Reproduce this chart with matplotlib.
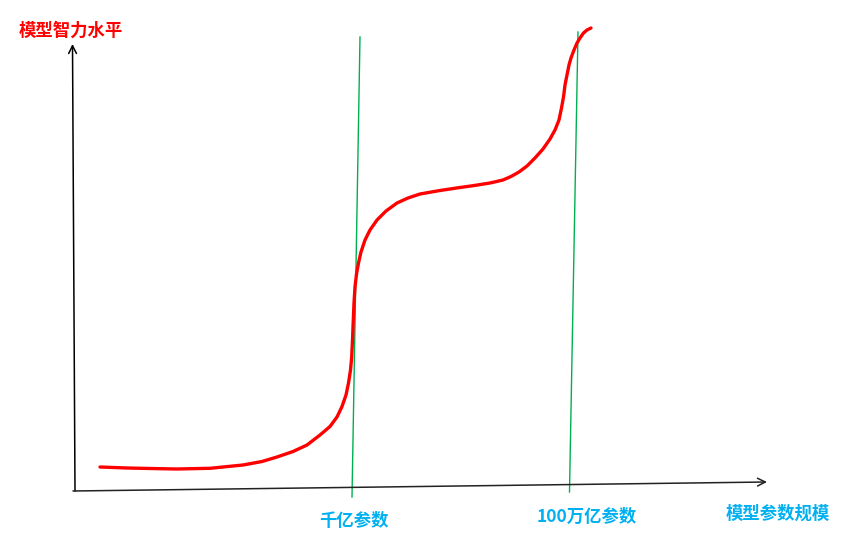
import matplotlib.pyplot as plt

plt.rcParams['font.family'] = ['Noto Sans CJK SC', 'DejaVu Sans']

# sketch coordinates: origin at the axes corner, x to the right, y upward
scale_x = [25, 52, 75, 102, 135, 168, 187, 202, 218, 232, 245, 255, 262, 267, 271,
           273.5, 275.5, 276.7, 277.5, 278.3, 279, 280, 281.5, 283.5, 286, 290, 295,
           302, 311, 322, 333, 345, 365, 385, 398, 415, 428, 436, 444, 452, 460, 468,
           475, 480, 484, 486.5, 488.5, 490, 492, 494, 496, 499, 502, 505, 508.5, 512, 516]
level = [24, 23, 22.5, 22, 22.7, 26, 29.5, 34, 39.5, 46, 56, 64.5, 74, 84.5, 96, 108,
         121, 134, 151, 171, 188, 204, 217, 228, 239, 251, 261, 271, 280, 288, 293, 297,
         300.5, 303.5, 305.3, 308, 311, 314.5, 319, 325, 333, 342, 352, 361, 371,
         383, 394, 406, 416, 426, 433, 441, 448, 453, 458, 461, 463]

milestone_labels = ['千亿参数', '100万亿参数']
milestone_bottom = [(277, -6), (494.5, -1)]
milestone_top = [(285, 454), (503, 459)]

y_title = '模型智力水平'
x_title = '模型参数规模'

red = '#FF0000'
green = '#00B050'
blue = '#00B0F0'

fig = plt.figure(figsize=(8.44, 5.55), dpi=100)
ax = fig.add_axes([0, 0, 1, 1])
ax.set_xlim(-75, 769)
ax.set_ylim(-64, 491)
ax.axis('off')

# axes drawn by hand (slightly tilted, like the sketch)
ax.annotate('', xy=(-2.5, 447), xytext=(0, 0),
            arrowprops=dict(arrowstyle='->', lw=1.1, color='black',
                            mutation_scale=14, shrinkA=0, shrinkB=0))
ax.annotate('', xy=(692, 9), xytext=(-2, 0),
            arrowprops=dict(arrowstyle='->', lw=1.1, color='#222222',
                            mutation_scale=14, shrinkA=0, shrinkB=0))

for (x0, y0), (x1, y1) in zip(milestone_bottom, milestone_top):
    ax.plot([x0, x1], [y0, y1], color=green, lw=1.0)

ax.plot(scale_x, level, color=red, lw=2.4, solid_capstyle='round')

ax.text(-56, 460, y_title, color=red, fontsize=12.5, fontweight='bold',
        ha='left', va='center')
ax.text(279, -30, milestone_labels[0], color=blue, fontsize=12.5,
        fontweight='bold', ha='center', va='center')
ax.text(512, -26, milestone_labels[1], color=blue, fontsize=12.5,
        fontweight='bold', ha='center', va='center')
ax.text(703, -23, x_title, color=blue, fontsize=12.5, fontweight='bold',
        ha='center', va='center')

fig.savefig('out.png', dpi=100)
